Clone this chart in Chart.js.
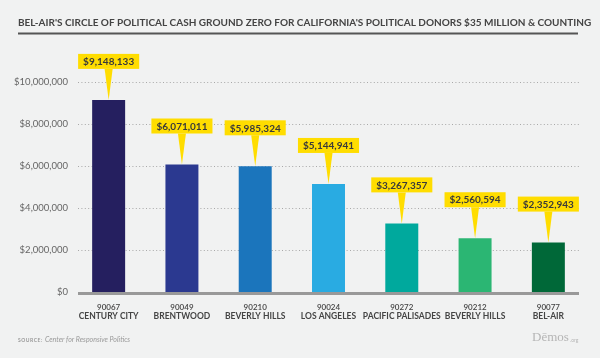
<!DOCTYPE html>
<html>
<head>
<meta charset="utf-8">
<script src="https://cdn.jsdelivr.net/npm/chart.js@4/dist/chart.umd.min.js"></script>
<style>
  body { margin: 0; background: #f1f2f2; }
  #wrap { position: relative; width: 600px; height: 358px; }
</style>
</head>
<body>
<div id="wrap"><canvas id="donorChart"></canvas></div>
<script>
// data
const zipCodes = ['90067', '90049', '90210', '90024', '90272', '90212', '90077'];
const neighborhoods = ['CENTURY CITY', 'BRENTWOOD', 'BEVERLY HILLS', 'LOS ANGELES', 'PACIFIC PALISADES', 'BEVERLY HILLS', 'BEL-AIR'];
const donations = [9148133, 6071011, 5985324, 5144941, 3267357, 2560594, 2352943];
const yTickStep = 2000000;
const yMax = 10000000;

const barColors = ['#251f5f', '#2b3990', '#1b75bc', '#29abe2', '#00a99d', '#2bb673', '#006838'];
const calloutColor = '#ffdd00';

const money = v => '$' + v.toLocaleString('en-US');

// title, source line, logo
const frame = {
    id: 'frame',
    beforeDraw(chart) {
        const ctx = chart.ctx;
        ctx.save();
        ctx.fillStyle = '#444';
        ctx.font = 'bold 10px Lato';
        ctx.textBaseline = 'middle';
        ctx.textAlign = 'left';
        ctx.fillText("BEL-AIR'S CIRCLE OF POLITICAL CASH GROUND ZERO FOR CALIFORNIA'S POLITICAL DONORS $35 MILLION & COUNTING", 18, 22.5);
        ctx.fillStyle = '#555';
        ctx.fillRect(18, 32.5, 560, 2);

        ctx.fillStyle = '#999';
        ctx.font = 'bold 5px Lato';
        ctx.letterSpacing = '0.5px';
        ctx.fillText('SOURCE:', 18, 340);
        ctx.letterSpacing = '0px';
        ctx.font = 'italic 7px Lato';
        ctx.fillText('Center for Responsive Politics', 45, 340);

        ctx.fillStyle = '#b5b5b5';
        ctx.font = '13px "Liberation Serif"';
        ctx.fillText('D\u0113mos', 532, 338);
        ctx.font = '5px Lato';
        ctx.fillText('.org', 570, 340);
        ctx.restore();
    }
};

// dotted grid lines under the bars
const dottedGrid = {
    id: 'dottedGrid',
    beforeDatasetsDraw(chart) {
        const ctx = chart.ctx;
        const y = chart.scales.y;
        ctx.save();
        ctx.strokeStyle = '#a8a8a8';
        ctx.lineWidth = 1;
        ctx.setLineDash([1, 2.4]);
        for (let v = yTickStep; v <= yMax; v += yTickStep) {
            const py = Math.round(y.getPixelForValue(v)) + 0.5;
            ctx.beginPath();
            ctx.moveTo(78, py);
            ctx.lineTo(579, py);
            ctx.stroke();
        }
        ctx.restore();
    }
};

// baseline, category labels and yellow callouts
const callouts = {
    id: 'callouts',
    afterDatasetsDraw(chart) {
        const ctx = chart.ctx;
        const x = chart.scales.x;
        const y0 = chart.scales.y.getPixelForValue(0);
        ctx.save();
        ctx.fillStyle = '#999';
        ctx.fillRect(78, y0, 501, 3);

        ctx.textAlign = 'center';
        ctx.textBaseline = 'middle';
        zipCodes.forEach((z, i) => {
            const px = x.getPixelForValue(i);
            ctx.fillStyle = '#444';
            ctx.font = '600 8px Lato';
            ctx.fillText(z, px, 307);
            ctx.font = 'bold 8.5px Lato';
            ctx.fillText(neighborhoods[i], px, 316.5);
        });

        const meta = chart.getDatasetMeta(0);
        meta.data.forEach((bar, i) => {
            const label = money(donations[i]);
            ctx.font = 'bold 10px Lato';
            const w = ctx.measureText(label).width + 10;
            const top = bar.y - 46;
            ctx.fillStyle = calloutColor;
            ctx.fillRect(bar.x - w / 2, top, w, 15);
            ctx.beginPath();
            ctx.moveTo(bar.x - 4, top + 15);
            ctx.lineTo(bar.x + 4, top + 15);
            ctx.lineTo(bar.x, bar.y);
            ctx.closePath();
            ctx.fill();
            ctx.fillStyle = '#3a3a3a';
            ctx.fillText(label, bar.x, top + 8);
        });
        ctx.restore();
    }
};

new Chart(document.getElementById('donorChart'), {
    type: 'bar',
    data: {
        labels: zipCodes,
        datasets: [{
            data: donations,
            backgroundColor: barColors,
            barPercentage: 0.45,
            categoryPercentage: 1
        }]
    },
    options: {
        responsive: true,
        maintainAspectRatio: false,
        animation: false,
        layout: { padding: { top: 82, right: 15, left: 0, bottom: 0 } },
        plugins: { legend: { display: false }, tooltip: { enabled: false } },
        scales: {
            x: {
                grid: { display: false },
                border: { display: false },
                ticks: { display: false },
                afterFit: s => { s.height = 66; }
            },
            y: {
                min: 0,
                max: yMax,
                grid: { display: false, drawTicks: false },
                border: { display: false },
                ticks: {
                    stepSize: yTickStep,
                    padding: 4,
                    color: '#666',
                    font: { family: 'Lato', size: 9.5 },
                    callback: v => money(v)
                },
                afterFit: s => { s.width = 72; }
            }
        }
    },
    plugins: [frame, dottedGrid, callouts]
});
</script>
</body>
</html>
